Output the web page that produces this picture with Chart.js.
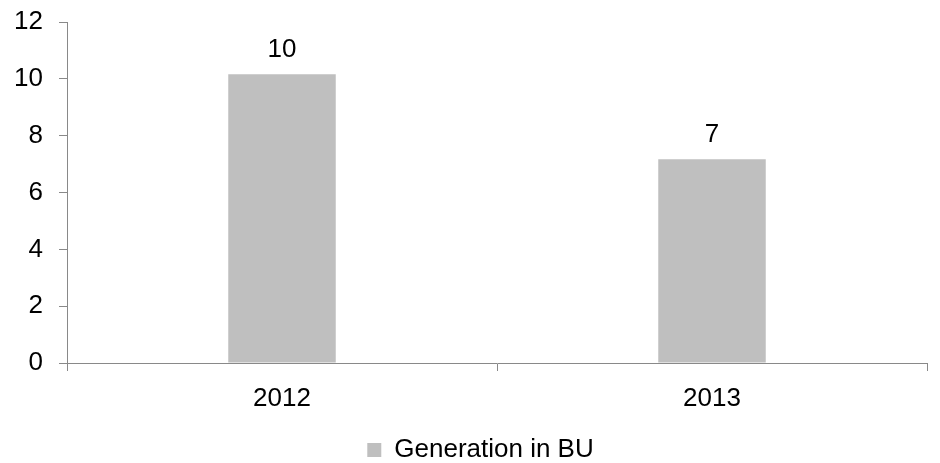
<!DOCTYPE html>
<html>
<head>
<meta charset="utf-8">
<script src="https://cdn.jsdelivr.net/npm/chart.js@4/dist/chart.umd.min.js"></script>
<style>
  html, body { margin: 0; padding: 0; background: #fff; }
  #wrap { width: 940px; height: 463px; }
</style>
</head>
<body>
<div id="wrap"><canvas id="c" width="940" height="463"></canvas></div>
<script>
const categories = ['2012', '2013'];
const seriesName = 'Generation in BU';
const generation = [10.16, 7.17];
const yTicks = [0, 2, 4, 6, 8, 10, 12];

const FONT = '"Liberation Sans", Arial, sans-serif';
const FONT_SIZE = 26;
const AXIS = '#898989';
const BAR = '#BFBFBF';

// Value labels above each bar, rounded to whole numbers
const valueLabels = {
  id: 'valueLabels',
  afterDatasetsDraw(chart) {
    const ctx = chart.ctx;
    ctx.save();
    ctx.font = FONT_SIZE + 'px ' + FONT;
    ctx.fillStyle = '#000';
    ctx.textAlign = 'center';
    ctx.textBaseline = 'alphabetic';
    chart.data.datasets.forEach((ds, i) => {
      chart.getDatasetMeta(i).data.forEach((bar, j) => {
        ctx.fillText(String(Math.round(ds.data[j])), bar.x, bar.y - 17.5);
      });
    });
    ctx.restore();
  }
};

// Nudge the legend a little to the right of the canvas centre
const legendShift = {
  id: 'legendShift',
  afterLayout(chart) {
    if (chart.legend) {
      chart.legend.left += 17;
      chart.legend.right += 17;
    }
  }
};

new Chart(document.getElementById('c'), {
  type: 'bar',
  data: {
    labels: categories,
    datasets: [{
      label: seriesName,
      data: generation,
      backgroundColor: BAR,
      borderWidth: 0,
      barPercentage: 0.25,
      categoryPercentage: 1.0
    }]
  },
  options: {
    responsive: false,
    animation: false,
    devicePixelRatio: 1,
    layout: { padding: { top: 22, right: 13, left: 0, bottom: 0 } },
    plugins: {
      tooltip: { enabled: false },
      legend: {
        position: 'bottom',
        maxHeight: 36,
        labels: {
          boxWidth: 14,
          boxHeight: 14,
          padding: 10,
          color: '#000',
          font: { family: FONT, size: FONT_SIZE }
        }
      }
    },
    scales: {
      x: {
        afterFit(scale) { scale.height = 64; },
        border: { display: true, color: AXIS, width: 1 },
        grid: { display: true, drawOnChartArea: false, drawTicks: true, tickLength: 8, tickColor: AXIS, offset: true },
        ticks: { color: '#000', padding: 12, font: { family: FONT, size: FONT_SIZE } }
      },
      y: {
        min: 0,
        max: 12,
        afterFit(scale) { scale.width = 67; },
        afterBuildTicks(scale) { scale.ticks = yTicks.map(v => ({ value: v })); },
        border: { display: true, color: AXIS, width: 1 },
        grid: { display: true, drawOnChartArea: false, drawTicks: true, tickLength: 8, tickColor: AXIS },
        ticks: { color: '#000', padding: 16, font: { family: FONT, size: FONT_SIZE, lineHeight: 0.4 } }
      }
    }
  },
  plugins: [valueLabels, legendShift]
});
</script>
</body>
</html>
